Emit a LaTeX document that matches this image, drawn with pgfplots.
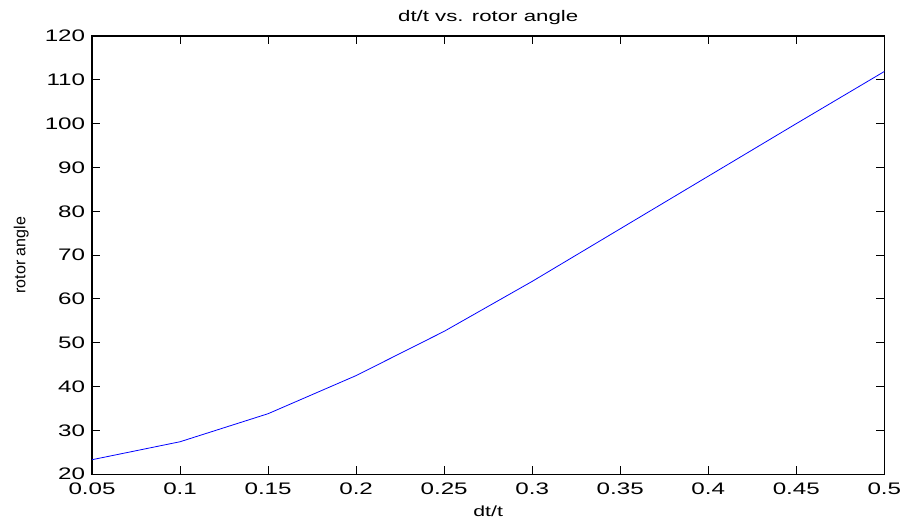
\documentclass[border=0pt]{standalone}
\usepackage{fontspec}
\setmainfont{Liberation Sans}
\newfontfamily\widefont[FakeStretch=1.45]{Liberation Sans}
\usepackage{pgfplots}
\pgfplotsset{compat=1.18}
\begin{document}
\begin{tikzpicture}
\begin{axis}[
  scale only axis,
  width=594pt, height=328.5pt,
  xmin=0.05, xmax=0.5, ymin=20, ymax=120,
  xtick={0.05,0.1,...,0.5},
  xticklabels={0.05,0.1,0.15,0.2,0.25,0.3,0.35,0.4,0.45,0.5},
  ytick={20,30,...,120},
  tick align=inside,
  major tick length=6pt,
  tick style={black, line width=0.7pt},
  axis line style={black, line width=1pt},
  /pgf/number format/assume math mode=true,
  ticklabel style={font=\widefont\fontsize{12.5}{15}\selectfont, inner sep=0pt},
  xticklabel style={anchor=base, yshift=-15.5pt},
  yticklabel style={anchor=east, xshift=-5pt},
  title={dt/t vs. rotor angle},
  title style={font=\widefont\fontsize{11.5}{13}\selectfont, at={(axis description cs:0.5,1)}, anchor=base, yshift=4.5pt, inner sep=0pt},
  xlabel={dt/t},
  xlabel style={font=\widefont\fontsize{11}{13}\selectfont, at={(axis description cs:0.5,0)}, anchor=base, yshift=-32pt, inner sep=0pt},
  ylabel={rotor angle},
  ylabel style={font=\fontsize{12}{14}\selectfont, at={([xshift=-53pt]axis description cs:0,0.5)}, anchor=center, inner sep=0pt},
]
\addplot[color={rgb,255:red,0;green,0;blue,255}, line width=0.6pt] coordinates {
  (0.05,23.3) (0.1,27.4) (0.15,33.8) (0.2,42.5) (0.25,52.6)
  (0.3,64.0) (0.35,76.0) (0.4,88.0) (0.45,100.0) (0.5,111.9)
};
\end{axis}
\path ([xshift=-69pt,yshift=-34pt]current axis.south west) rectangle ([xshift=14pt,yshift=27pt]current axis.north east);
\end{tikzpicture}
\end{document}
